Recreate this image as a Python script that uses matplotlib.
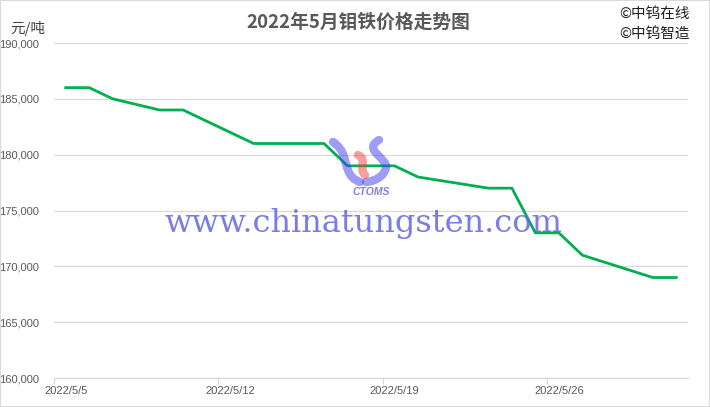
import matplotlib
matplotlib.use("Agg")
import matplotlib.pyplot as plt
import matplotlib.dates as mdates
from matplotlib.ticker import FuncFormatter, MultipleLocator, FixedLocator
from matplotlib.patches import Rectangle, PathPatch
from matplotlib.path import Path
import datetime as dt

plt.rcParams['font.family'] = ['Liberation Sans', 'Noto Sans CJK SC', 'DejaVu Sans']

# Working days (May 7, 2022 was a make-up working day)
dates = ["2022-05-05", "2022-05-06", "2022-05-07", "2022-05-09", "2022-05-10",
         "2022-05-11", "2022-05-12", "2022-05-13", "2022-05-16", "2022-05-17",
         "2022-05-18", "2022-05-19", "2022-05-20", "2022-05-23", "2022-05-24",
         "2022-05-25", "2022-05-26", "2022-05-27", "2022-05-30", "2022-05-31"]
prices = [186000, 186000, 185000, 184000, 184000,
          183000, 182000, 181000, 181000, 179000,
          179000, 179000, 178000, 177000, 177000,
          173000, 173000, 171000, 169000, 169000]
tick_labels = ["2022/5/5", "2022/5/12", "2022/5/19", "2022/5/26"]
tick_dates = ["2022-05-05", "2022-05-12", "2022-05-19", "2022-05-26"]

title = "2022年5月钼铁价格走势图"
unit = "元/吨"

x = [mdates.date2num(dt.datetime.strptime(d, "%Y-%m-%d")) for d in dates]
tx = [mdates.date2num(dt.datetime.strptime(d, "%Y-%m-%d")) for d in tick_dates]

W, H = 710, 407
fig = plt.figure(figsize=(W/100, H/100), dpi=100)
ax = fig.add_axes([54/W, 1-378/H, (688-54)/W, (378-43)/H])

ax.plot(x, prices, color="#00B050", linewidth=2.0, solid_joinstyle="round", zorder=3)

ax.set_xlim(x[0] - 0.5, x[-1] + 0.5)
ax.set_ylim(160000, 190000)
ax.yaxis.set_major_locator(MultipleLocator(5000))
ax.yaxis.set_major_formatter(FuncFormatter(lambda v, p: f"{int(v):,}"))
ax.grid(axis="y", color="#D9D9D9", linewidth=0.9)
ax.set_axisbelow(True)

# major ticks at category boundaries, labels at category centres
ax.xaxis.set_major_locator(FixedLocator([t - 0.5 for t in tx]))
ax.xaxis.set_major_formatter(FuncFormatter(lambda v, p: ""))
ax.xaxis.set_minor_locator(FixedLocator(tx))
ax.set_xticklabels(tick_labels, minor=True)
ax.tick_params(axis="x", which="major", length=4, color="#D9D9D9", width=0.9)
ax.tick_params(axis="x", which="minor", length=0, pad=6, labelsize=8, labelcolor="#595959")
ax.tick_params(axis="y", length=0, pad=11, labelsize=8, labelcolor="#595959")

for s in ["left", "right", "top"]:
    ax.spines[s].set_visible(False)
ax.spines["bottom"].set_color("#D9D9D9")
ax.spines["bottom"].set_linewidth(0.9)

cjk = ['Noto Sans CJK SC', 'DejaVu Sans']
fig.text(358/W, 1-22/H, title, ha="center", va="center", fontsize=13.5,
         fontweight="bold", color="#595959", family=cjk)
fig.text(28/W, 1-28/H, unit, ha="center", va="center", fontsize=10.5,
         color="#404040", family=cjk)
fig.text(690/W, 1-14/H, "©中钨在线", ha="right", va="center", fontsize=10.5,
         color="#202020", family=cjk)
fig.text(690/W, 1-34/H, "©中钨智造", ha="right", va="center", fontsize=10.5,
         color="#202020", family=cjk)

# watermark text
fig.text(363/W, 1-223/H, "www.chinatungsten.com", ha="center", va="center",
         fontsize=23, color="#6464e6", alpha=0.85, family=['DejaVu Serif'], zorder=5)
fig.text(371/W, 1-192/H, "CTOMS", ha="center", va="center", fontsize=7.5,
         fontweight="bold", style="italic", color="#6a6ae8", alpha=0.85, zorder=5)

# watermark logo strokes (figure pixel coords)
def stroke(pts, color, lw):
    verts = [(px / W, 1 - py / H) for px, py in pts]
    codes = [Path.MOVETO] + [Path.CURVE4] * (len(verts) - 1)
    fig.patches.append(PathPatch(Path(verts, codes), transform=fig.transFigure,
                                 fill=False, edgecolor=color, linewidth=lw,
                                 alpha=0.5, capstyle="round", zorder=6))

stroke([(333, 142), (345, 150), (344, 160), (348, 170),
        (350, 176), (354, 180), (360, 182)], "#3c3cf0", 6)
stroke([(379, 140), (362, 150), (388, 158), (386, 168),
        (384, 176), (376, 181), (366, 182)], "#3c3cf0", 6)
stroke([(358, 155), (368, 160), (358, 168), (365, 175)], "#f04040", 6)

fig.patches.append(Rectangle((0, 0), 1, 1, transform=fig.transFigure, fill=False,
                             edgecolor="#D9D9D9", linewidth=1.5))

fig.savefig("out.png", dpi=100)
